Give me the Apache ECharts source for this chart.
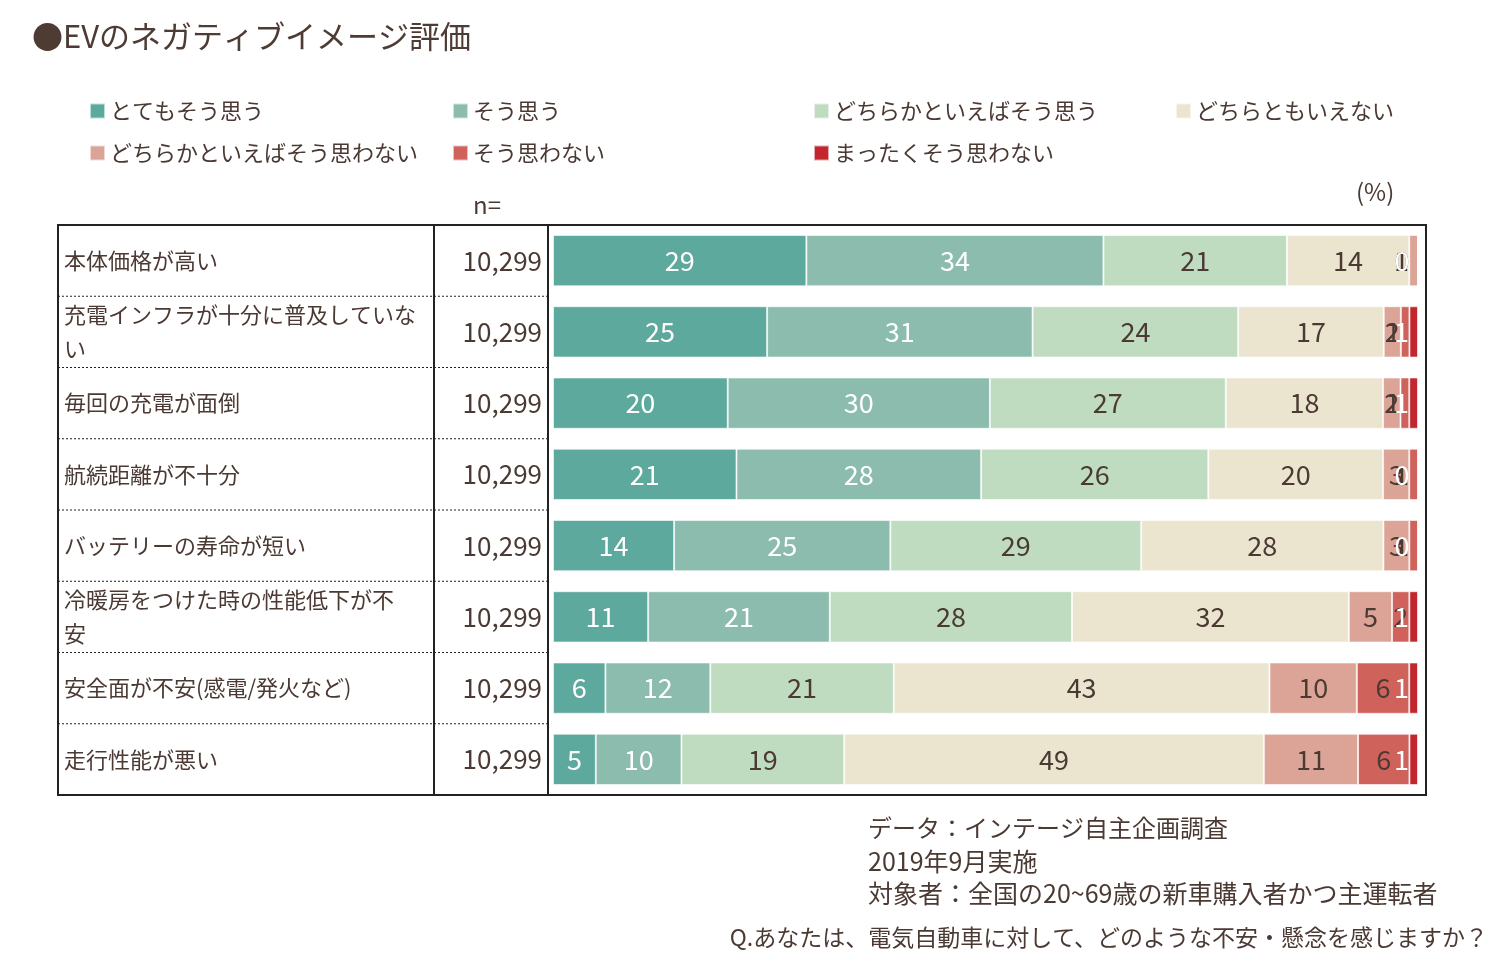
<!DOCTYPE html>
<html>
<head>
<meta charset="utf-8">
<script src="https://cdn.jsdelivr.net/npm/echarts@6/dist/echarts.min.js"></script>
<style>
html,body{margin:0;padding:0;background:#fff;}
#main{width:1510px;height:973px;}
</style>
</head>
<body>
<div id="main"></div>
<script>
// 項目（改行は元図の折り返し位置）
var categories = ['本体価格が高い', '充電インフラが十分に普及していな\nい', '毎回の充電が面倒', '航続距離が不十分',
    'バッテリーの寿命が短い', '冷暖房をつけた時の性能低下が不\n安', '安全面が不安(感電/発火など)', '走行性能が悪い']
var nValues = [10299, 10299, 10299, 10299, 10299, 10299, 10299, 10299]

var seriesNames = ['とてもそう思う', 'そう思う', 'どちらかといえばそう思う', 'どちらともいえない',
    'どちらかといえばそう思わない', 'そう思わない', 'まったくそう思わない']
var veryAgree     = [29, 25, 20, 21, 14, 11, 6, 5]
var agree         = [34, 31, 30, 28, 25, 21, 12, 10]
var someAgree     = [21, 24, 27, 26, 29, 28, 21, 19]
var neutral       = [14, 17, 18, 20, 28, 32, 43, 49]
var someDisagree  = [1, 2, 2, 3, 3, 5, 10, 11]
var disagree      = [0, 1, 1, 1, 1, 2, 6, 6]
var stronglyDis   = [0, 1, 1, 0, 0, 1, 1, 1]

var colors = ['#5ea99d', '#8bbcad', '#bfdcc0', '#ebe5cf', '#dca497', '#d0625c', '#c1272d']
var labelColors = ['#fff', '#fff', '#4b3a33', '#4b3a33', '#4b3a33', '#4b3a33', '#fff']
var allData = [veryAgree, agree, someAgree, neutral, someDisagree, disagree, stronglyDis]

var textColor = '#4b3a33'
var font = '"Noto Sans CJK JP", "Noto Sans", sans-serif'

// 表示値は四捨五入済みなので、各行を100%に揃えて帯の長さを決める
var rowSums = categories.map(function (c, r) {
    return allData.reduce(function (s, arr) { return s + arr[r] }, 0)
})

var chart = echarts.init(document.getElementById('main'))

var series = seriesNames.map(function (name, i) {
    return {
        name: name,
        type: 'bar',
        stack: 'total',
        barWidth: '72%',
        data: allData[i].map(function (v, r) {
            var item = { value: v / rowSums[r] * 100, raw: v }
            // 右端の細い帯はラベルを左に寄せる（元図と同じく重なる）
            if (i >= 4 && v <= 1) item.label = { position: 'insideRight', distance: 9 }
            return item
        }),
        itemStyle: { color: colors[i], borderColor: 'rgba(255,255,255,0.6)', borderWidth: 1 },
        label: {
            show: true,
            position: 'inside',
            overflow: 'none',
            color: labelColors[i],
            fontSize: 27,
            fontFamily: font,
            formatter: function (p) { return p.data.raw }
        }
    }
})

// 凡例は4列に分けて配置
var legendCols = [
    { left: 84, data: [seriesNames[0], seriesNames[4]] },
    { left: 447, data: [seriesNames[1], seriesNames[5]] },
    { left: 808, data: [seriesNames[2], seriesNames[6]] },
    { left: 1170, data: [seriesNames[3]] }
]

var rowH = (795 - 225) / categories.length
var lines = []
for (var k = 1; k < categories.length; k++) {
    var y = 225 + rowH * k
    lines.push({
        type: 'line', shape: { x1: 58, y1: y, x2: 548, y2: y },
        style: { stroke: '#222', lineWidth: 1, lineDash: [2, 2] }
    })
}

var option = {
    backgroundColor: '#fff',
    animation: false,
    color: colors,
    title: {
        text: '●EVのネガティブイメージ評価',
        left: 27, top: 16,
        textStyle: { fontSize: 31, fontWeight: 'normal', color: '#4d3b34', fontFamily: font }
    },
    legend: legendCols.map(function (c) {
        return {
            left: c.left, top: 93,
            orient: 'vertical',
            itemGap: 16,
            itemWidth: 15, itemHeight: 15,
            icon: 'rect',
            data: c.data,
            textStyle: { fontSize: 22, color: textColor, fontFamily: font, lineHeight: 26 }
        }
    }),
    grid: { left: 553, right: 92, top: 225, bottom: 178, containLabel: false },
    xAxis: { type: 'value', min: 0, max: 100, show: false },
    yAxis: [
        {
            type: 'category', inverse: true, position: 'left',
            data: categories,
            axisLine: { show: false }, axisTick: { show: false }, splitLine: { show: false },
            axisLabel: { align: 'left', margin: 489, fontSize: 22, lineHeight: 34, color: textColor, fontFamily: font }
        },
        {
            type: 'category', inverse: true, position: 'left',
            data: nValues.map(function (v) { return v.toLocaleString('en-US') }),
            axisLine: { show: false }, axisTick: { show: false }, splitLine: { show: false },
            axisLabel: { align: 'right', margin: 11, fontSize: 26, color: textColor, fontFamily: font }
        }
    ],
    series: series,
    graphic: [
        { type: 'rect', shape: { x: 58, y: 225, width: 1368, height: 570 }, style: { fill: 'none', stroke: '#222', lineWidth: 2 }, silent: true },
        { type: 'line', shape: { x1: 434, y1: 225, x2: 434, y2: 795 }, style: { stroke: '#222', lineWidth: 2 } },
        { type: 'line', shape: { x1: 548, y1: 225, x2: 548, y2: 795 }, style: { stroke: '#222', lineWidth: 2 } },
        { type: 'text', left: 473, top: 193, style: { text: 'n=', fontSize: 24, fill: textColor, fontFamily: font } },
        { type: 'text', left: 1356, top: 180, style: { text: '(%)', fontSize: 24, fill: textColor, fontFamily: font } },
        { type: 'text', left: 868, top: 816, style: { text: 'データ：インテージ自主企画調査', fontSize: 24, fill: textColor, fontFamily: font } },
        { type: 'text', left: 868, top: 849, style: { text: '2019年9月実施', fontSize: 25, fill: textColor, fontFamily: font } },
        { type: 'text', left: 868, top: 881, style: { text: '対象者：全国の20~69歳の新車購入者かつ主運転者', fontSize: 25, fill: textColor, fontFamily: font } },
        { type: 'text', right: 22, top: 926, style: { text: 'Q.あなたは、電気自動車に対して、どのような不安・懸念を感じますか？', fontSize: 23, fill: textColor, fontFamily: font } }
    ].concat(lines)
}

chart.setOption(option)
</script>
</body>
</html>
